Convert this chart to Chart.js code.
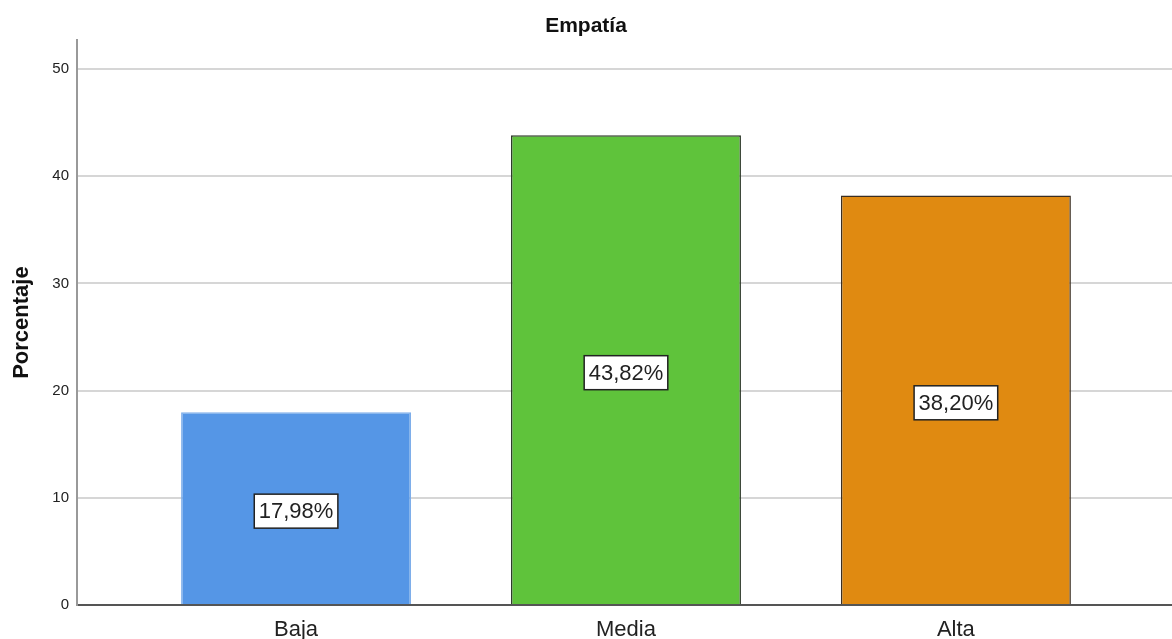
<!DOCTYPE html>
<html>
<head>
<meta charset="utf-8">
<script src="https://cdn.jsdelivr.net/npm/chart.js@4"></script>
<style>
  html, body { margin: 0; padding: 0; background: #fff; }
  #wrap { width: 1172px; height: 639px; }
</style>
</head>
<body>
<div id="wrap"><canvas id="myChart" width="1172" height="639"></canvas></div>
<script>
// Categories and percentages
var niveles = ['Baja', 'Media', 'Alta'];
var porcentajes = [17.98, 43.82, 38.20];
var colores = ['#5596e6', '#5fc33b', '#e08a11'];
var bordes = ['#7eaeea', '#2e3a2a', '#3a2e22'];
var yTicks = [0, 10, 20, 30, 40, 50];

var fuente = '"Liberation Sans", Arial, sans-serif';

// boxed value labels in the middle of each bar
var etiquetas = {
  id: 'etiquetas',
  afterDatasetsDraw: function(chart) {
    var ctx = chart.ctx;
    var meta = chart.getDatasetMeta(0);
    ctx.save();
    ctx.font = '22px ' + fuente;
    ctx.textAlign = 'center';
    ctx.textBaseline = 'middle';
    meta.data.forEach(function(bar, i) {
      var txt = porcentajes[i].toFixed(2).replace('.', ',') + '%';
      var w = ctx.measureText(txt).width + 9;
      var h = 34;
      var cy = (bar.y + bar.base) / 2 + 3;
      ctx.fillStyle = '#ffffff';
      ctx.fillRect(bar.x - w / 2, cy - h / 2, w, h);
      ctx.strokeStyle = '#222';
      ctx.lineWidth = 1.5;
      ctx.strokeRect(bar.x - w / 2, cy - h / 2, w, h);
      ctx.fillStyle = '#222';
      ctx.fillText(txt, bar.x, cy + 1);
    });
    ctx.restore();
  }
};

var myChart = new Chart('myChart', {
  type: 'bar',
  data: {
    datasets: [{
      data: niveles.map(function(n, i) { return { x: i + 1, y: porcentajes[i] }; }),
      backgroundColor: colores,
      borderColor: bordes,
      borderWidth: 1.5,
      categoryPercentage: 1,
      barPercentage: 0.697
    }]
  },
  options: {
    responsive: false,
    animation: false,
    layout: { padding: 0 },
    plugins: {
      legend: { display: false },
      tooltip: { enabled: false },
      title: {
        display: true,
        text: 'Empatía',
        color: '#111',
        font: { family: fuente, size: 21, weight: 'bold' },
        padding: { top: 14, bottom: 1 }
      }
    },
    scales: {
      x: {
        type: 'linear',
        offset: false,
        min: 0.336,
        max: 3.655,
        grid: { display: false },
        border: { display: true, color: '#555', width: 2 },
        afterBuildTicks: function(scale) {
          scale.ticks = niveles.map(function(n, i) { return { value: i + 1 }; });
        },
        afterFit: function(scale) { scale.height = 34; },
        ticks: {
          padding: 4,
          color: '#222',
          font: { family: fuente, size: 22 },
          callback: function(v) { return niveles[v - 1]; }
        }
      },
      y: {
        min: 0,
        max: 52.7,
        grid: { color: '#d6d6d6', lineWidth: 2, drawTicks: false },
        border: { display: true, color: '#999', width: 2 },
        afterBuildTicks: function(scale) {
          scale.ticks = yTicks.map(function(v) { return { value: v }; });
        },
        afterFit: function(scale) { scale.width = 77; },
        ticks: {
          padding: 8,
          color: '#222',
          font: { family: fuente, size: 15 }
        },
        title: {
          display: true,
          text: 'Porcentaje',
          color: '#111',
          font: { family: fuente, size: 22, weight: 'bold' },
          padding: { top: 9, bottom: 0 }
        }
      }
    }
  },
  plugins: [etiquetas]
});
</script>
</body>
</html>
